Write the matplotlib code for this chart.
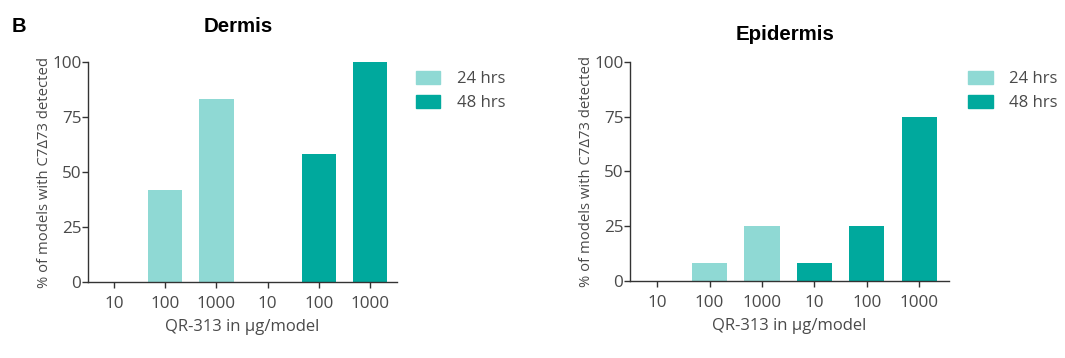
import matplotlib.pyplot as plt
import numpy as np

plt.rcParams['font.family'] = ['Open Sans', 'DejaVu Sans']

doses = ['10', '100', '1000', '10', '100', '1000']
groups = ['24 hrs', '24 hrs', '24 hrs', '48 hrs', '48 hrs', '48 hrs']
dermis = [0, 41.7, 83.3, 0, 58.3, 100]
epidermis = [0, 8.3, 25, 8.3, 25, 75]

colors = {'24 hrs': '#8fd9d4', '48 hrs': '#00a99d'}
text_col = '#4a4a4a'

fig = plt.figure(figsize=(10.65, 3.58), dpi=100)


def panel(rect, vals, title, title_y, xlim):
    ax = fig.add_axes(rect)
    x = np.arange(len(vals))
    ax.bar(x, vals, width=0.67, color=[colors[g] for g in groups])
    ax.set_xlim(*xlim)
    ax.set_ylim(0, 100)
    ax.set_yticks([0, 25, 50, 75, 100])
    ax.set_xticks(x)
    ax.set_xticklabels(doses)
    for s in ['top', 'right']:
        ax.spines[s].set_visible(False)
    for s in ['left', 'bottom']:
        ax.spines[s].set_color('#333333')
        ax.spines[s].set_linewidth(1.0)
    ax.tick_params(colors='#333333', labelcolor=text_col, labelsize=12.3, length=4, width=1.0)
    ax.tick_params(axis='x', pad=6)
    ax.tick_params(axis='y', pad=0.8)
    ax.set_xlabel('QR-313 in µg/model', fontsize=12, color=text_col, labelpad=5)
    ax.set_ylabel('% of models with C7Δ73 detected', fontsize=10.7, color=text_col, labelpad=0)
    fig.text(rect[0] + rect[2] * 0.5 - 0.004, title_y, title, ha='center', va='center',
             fontsize=14.8, fontweight='bold', family=['Liberation Sans', 'DejaVu Sans'], color='black')
    handles = [plt.Rectangle((0, 0), 1, 1, color=colors[k]) for k in ['24 hrs', '48 hrs']]
    ax.legend(handles, ['24 hrs', '48 hrs'], loc='upper left', bbox_to_anchor=(1.04, 0.99),
              frameon=False, fontsize=12, labelcolor=text_col, handlelength=1.45,
              handleheight=0.85, handletextpad=1.0, labelspacing=0.45, borderaxespad=0)
    return ax


panel([0.0826, 0.2123, 0.2902, 0.6145], dermis, 'Dermis', 1 - 27 / 358, (-0.51, 5.53))
panel([0.5915, 0.2151, 0.2996, 0.6117], epidermis, 'Epidermis', 1 - 34 / 358, (-0.52, 5.57))
fig.text(0.011, 1 - 27 / 358, 'B', fontsize=14.5, fontweight='bold',
         family=['Liberation Sans', 'DejaVu Sans'], va='center')

fig.savefig('out.png', dpi=100)
